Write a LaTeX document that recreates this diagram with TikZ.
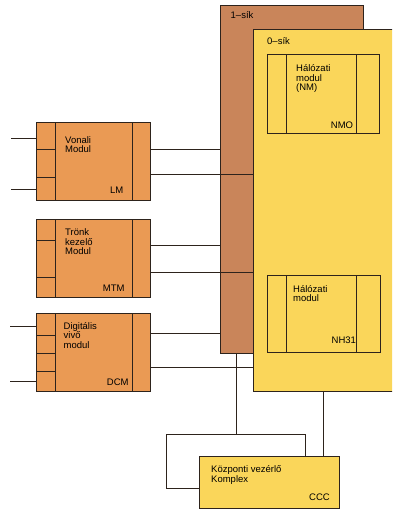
\documentclass[tikz,border=0pt]{standalone}
\usepackage{fontspec}
\setmainfont{Liberation Sans}
\usetikzlibrary{positioning}

\definecolor{linec}{RGB}{45,35,28}
\definecolor{modulc}{RGB}{234,154,84}
\definecolor{sikbrown}{RGB}{201,133,90}
\definecolor{sikyellow}{RGB}{250,214,90}

\begin{document}
\begin{tikzpicture}[x=1pt, y=-1pt,
        wire/.style={draw=linec, line width=0.8pt},
        box/.style={draw=linec, line width=0.9pt, anchor=north west, inner sep=0pt, outer sep=0pt},
        modul/.style={box, fill=modulc, minimum width=114.7pt},
        plane1/.style={box, fill=sikbrown, minimum width=143pt, minimum height=348pt},
        plane0/.style={box, fill=sikyellow, minimum width=150pt, minimum height=361.5pt},
        netmod/.style={box, minimum width=112.5pt},
        label_text/.style={font=\fontsize{9.5}{9.5}\selectfont, align=left, inner sep=0pt, anchor=base west, text=black}
    ]
        \clip (0,0) rectangle (392,522);

        % sikok
        \node[plane1] (sik1) at (220,5) {};
        \node[label_text] (sik1name) at (230.5,18.3) {1--sík};
        \node[plane0] (sik0) at (253,29.5) {};
        \node[label_text] (sik0name) at (267,44.3) {0--sík};

        % halozati modulok
        \node[netmod, minimum height=79.4pt] (nm) at (267.3,54.3) {};
        \draw[wire] (nm.north west) ++(19.4,0) -- ++(0,79.4);
        \draw[wire] (nm.north east) ++(-23.3,0) -- ++(0,79.4);
        \node[label_text] (nmname) at (296,90.5) {Hálózati\\modul\\(NM)};
        \node[label_text] (nmid) at (330.7,128.3) {NMO};

        \node[netmod, minimum height=77pt] (nh) at (267.5,275.7) {};
        \draw[wire] (nh.north west) ++(18.5,0) -- ++(0,77);
        \draw[wire] (nh.north east) ++(-23.3,0) -- ++(0,77);
        \node[label_text] (nhname) at (293,301.7) {Hálózati\\modul};
        \node[label_text] (nhid) at (331.5,343.3) {NH31};

        % LM
        \node[modul, minimum height=78pt] (lm) at (36,122.7) {};
        \draw[wire] (lm.north west) ++(19.3,0) -- ++(0,78);
        \draw[wire] (lm.north east) ++(-18,0) -- ++(0,78);
        \draw[wire] (lm.west |- 0,149.3) -- (55.3,149.3);
        \draw[wire] (lm.west |- 0,177.7) -- (55.3,177.7);
        \node[label_text] (lmname) at (65,152.7) {Vonali\\Modul};
        \node[label_text] (lmid) at (110,193.3) {LM};

        % MTM
        \node[modul, minimum height=78.3pt] (mtm) at (36,219) {};
        \draw[wire] (mtm.north west) ++(19.3,0) -- ++(0,78.3);
        \draw[wire] (mtm.north east) ++(-18,0) -- ++(0,78.3);
        \draw[wire] (mtm.west |- 0,240) -- (55.3,240);
        \draw[wire] (mtm.west |- 0,277.7) -- (55.3,277.7);
        \node[label_text] (mtmname) at (65,254.8) {Trönk\\kezelő\\Modul};
        \node[label_text] (mtmid) at (102.7,291) {MTM};

        % DCM
        \node[modul, minimum height=77.7pt] (dcm) at (36,313.3) {};
        \draw[wire] (dcm.north west) ++(19.3,0) -- ++(0,77.7);
        \draw[wire] (dcm.north east) ++(-18,0) -- ++(0,77.7);
        \draw[wire] (dcm.west |- 0,335) -- (55.3,335);
        \draw[wire] (dcm.west |- 0,353.3) -- (55.3,353.3);
        \draw[wire] (dcm.west |- 0,371) -- (55.3,371);
        \node[label_text] (dcmname) at (63.5,348.1) {Digitális\\vivő\\modul};
        \node[label_text] (dcmid) at (106.7,385) {DCM};

        % bemenetek
        \draw[wire] (11,138.3) -- (lm.west |- 0,138.3);
        \draw[wire] (11,189.3) -- (lm.west |- 0,189.3);
        \draw[wire] (10,326.7) -- (dcm.west |- 0,326.7);
        \draw[wire] (10,381) -- (dcm.west |- 0,381);

        % modulok -> sikok
        \draw[wire] (lm.east |- 0,149.3) -- (sik1.west |- 0,149.3);
        \draw[wire] (lm.east |- 0,174.3) -- (sik0.west |- 0,174.3);
        \draw[wire] (mtm.east |- 0,245) -- (sik1.west |- 0,245);
        \draw[wire] (mtm.east |- 0,272.3) -- (sik0.west |- 0,272.3);
        \draw[wire] (dcm.east |- 0,333.3) -- (sik1.west |- 0,333.3);
        \draw[wire] (dcm.east |- 0,367.7) -- (sik0.west |- 0,367.7);

        % kozponti vezerlo
        \coordinate (loopTL) at (166,434);
        \coordinate (loopTR) at (305.7,434);
        \draw[wire] (sik1.south -| 236.7,0) -- (loopTL -| 236.7,0);
        \draw[wire] (loopTR) -- (loopTL) -- (166,488.3) -- (199,488.3);
        \node[box, fill=sikyellow, minimum width=140pt, minimum height=51.6pt] (ccc) at (199,456.7) {};
        \draw[wire] (loopTR) -- (ccc.north -| loopTR);
        \draw[wire] (sik0.south -| 323.5,0) -- (ccc.north -| 323.5,0);
        \node[label_text] (cccname) at (211,482.1) {Központi vezérlő\\Komplex};
        \node[label_text] (cccid) at (309,500) {CCC};

    \end{tikzpicture}
\end{document}
